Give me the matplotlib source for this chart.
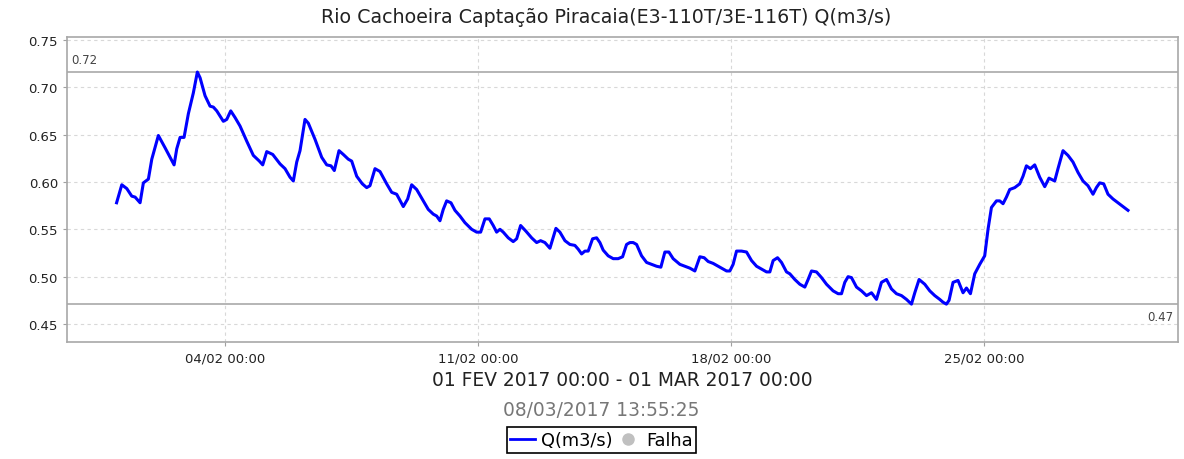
import datetime as dt
import matplotlib
matplotlib.use('Agg')
import matplotlib.pyplot as plt
import matplotlib.dates as mdates
from matplotlib.lines import Line2D

# dias decorridos desde 01/02/2017 00:00
days = [0.0, 0.144, 0.282, 0.420, 0.512, 0.650, 0.741, 0.880, 0.974, 1.156,
        1.342, 1.480, 1.591, 1.665, 1.757, 1.867, 1.986, 2.124, 2.235, 2.310,
        2.448, 2.586, 2.678, 2.772, 2.954, 3.048, 3.159, 3.278, 3.416, 3.602,
        3.784, 3.950, 4.044, 4.155, 4.321, 4.523, 4.661, 4.799, 4.891, 4.985,
        5.076, 5.214, 5.306, 5.491, 5.676, 5.815, 5.934, 6.025, 6.155, 6.274,
        6.412, 6.506, 6.645, 6.800, 6.921, 7.012, 7.151, 7.289, 7.474, 7.613,
        7.751, 7.934, 8.055, 8.166, 8.304, 8.487, 8.625, 8.763, 8.858, 8.949,
        9.040, 9.134, 9.253, 9.364, 9.502, 9.640, 9.826, 9.964, 10.075, 10.194,
        10.313, 10.423, 10.517, 10.609, 10.700, 10.838, 10.976, 11.071, 11.181, 11.328,
        11.485, 11.624, 11.734, 11.853, 11.992, 12.158, 12.268, 12.407, 12.545, 12.683,
        12.775, 12.869, 12.960, 13.051, 13.173, 13.284, 13.375, 13.466, 13.604, 13.743,
        13.881, 14.003, 14.113, 14.205, 14.296, 14.390, 14.528, 14.667, 14.805, 14.943,
        15.062, 15.173, 15.284, 15.402, 15.588, 15.726, 15.864, 16.003, 16.141, 16.260,
        16.371, 16.509, 16.647, 16.786, 16.880, 16.971, 17.062, 17.156, 17.295, 17.433,
        17.571, 17.710, 17.848, 17.986, 18.078, 18.169, 18.291, 18.401, 18.539, 18.631,
        18.769, 18.907, 19.046, 19.137, 19.231, 19.369, 19.508, 19.646, 19.829, 19.967,
        20.061, 20.152, 20.243, 20.337, 20.476, 20.614, 20.753, 20.891, 21.029, 21.167,
        21.306, 21.444, 21.582, 21.721, 21.859, 21.997, 22.089, 22.208, 22.365, 22.504,
        22.642, 22.780, 22.871, 22.965, 23.037, 23.148, 23.286, 23.424, 23.519, 23.629,
        23.748, 23.887, 24.024, 24.116, 24.210, 24.349, 24.440, 24.531, 24.625, 24.716,
        24.855, 24.993, 25.084, 25.178, 25.289, 25.408, 25.546, 25.685, 25.803, 25.961,
        26.052, 26.191, 26.329, 26.467, 26.606, 26.744, 26.882, 27.021, 27.115, 27.206,
        27.317, 27.436, 27.574, 27.712, 27.851, 27.989]

vazao = [0.578, 0.597, 0.593, 0.585, 0.584, 0.578, 0.599, 0.603, 0.624, 0.649,
         0.636, 0.626, 0.618, 0.635, 0.647, 0.647, 0.672, 0.694, 0.716, 0.710,
         0.691, 0.680, 0.679, 0.675, 0.664, 0.666, 0.675, 0.668, 0.659, 0.643,
         0.628, 0.622, 0.618, 0.632, 0.629, 0.619, 0.614, 0.605, 0.601, 0.621,
         0.633, 0.666, 0.662, 0.645, 0.626, 0.618, 0.617, 0.612, 0.633, 0.629,
         0.624, 0.622, 0.606, 0.598, 0.594, 0.596, 0.614, 0.611, 0.598, 0.589,
         0.587, 0.574, 0.582, 0.597, 0.592, 0.580, 0.571, 0.566, 0.564, 0.559,
         0.571, 0.580, 0.578, 0.570, 0.564, 0.557, 0.550, 0.547, 0.547, 0.561,
         0.561, 0.554, 0.547, 0.550, 0.547, 0.541, 0.537, 0.540, 0.554, 0.548,
         0.541, 0.536, 0.538, 0.536, 0.530, 0.551, 0.547, 0.538, 0.534, 0.533,
         0.529, 0.524, 0.527, 0.527, 0.540, 0.541, 0.536, 0.528, 0.522, 0.519,
         0.519, 0.521, 0.534, 0.536, 0.536, 0.534, 0.522, 0.515, 0.513, 0.511,
         0.510, 0.526, 0.526, 0.519, 0.513, 0.511, 0.509, 0.506, 0.521, 0.520,
         0.516, 0.514, 0.511, 0.508, 0.506, 0.506, 0.513, 0.527, 0.527, 0.526,
         0.517, 0.511, 0.508, 0.505, 0.505, 0.517, 0.520, 0.515, 0.505, 0.503,
         0.497, 0.492, 0.489, 0.497, 0.506, 0.505, 0.499, 0.492, 0.485, 0.482,
         0.482, 0.494, 0.500, 0.499, 0.489, 0.485, 0.480, 0.483, 0.476, 0.494,
         0.497, 0.487, 0.482, 0.480, 0.476, 0.471, 0.483, 0.497, 0.492, 0.485,
         0.480, 0.476, 0.473, 0.471, 0.475, 0.494, 0.496, 0.483, 0.488, 0.482,
         0.503, 0.513, 0.522, 0.550, 0.573, 0.580, 0.580, 0.577, 0.584, 0.592,
         0.594, 0.598, 0.606, 0.617, 0.614, 0.618, 0.605, 0.595, 0.604, 0.601,
         0.614, 0.633, 0.628, 0.621, 0.610, 0.601, 0.596, 0.587, 0.594, 0.599,
         0.598, 0.587, 0.582, 0.578, 0.574, 0.570]

yticks = [0.45, 0.50, 0.55, 0.60, 0.65, 0.70, 0.75]
xtick_dates = [dt.datetime(2017, 2, 4), dt.datetime(2017, 2, 11),
               dt.datetime(2017, 2, 18), dt.datetime(2017, 2, 25)]

inicio = dt.datetime(2017, 2, 1)
fim = dt.datetime(2017, 3, 1)


def main():
    t = [inicio + dt.timedelta(days=d) for d in days]

    fig = plt.figure(figsize=(11.84, 4.6), dpi=100)
    ax = fig.add_axes([0.0566, 0.2543, 0.9383, 0.6631])

    ax.plot(t, vazao, color='#0000ff', linewidth=2.2, zorder=3)

    # linhas de maximo e minimo
    vmax = max(vazao)
    vmin = min(vazao)
    ax.axhline(vmax, color='#b0b0b0', linewidth=1.3, zorder=2)
    ax.axhline(vmin, color='#b0b0b0', linewidth=1.3, zorder=2)
    ax.text(0.004, vmax + 0.006, '%.2f' % vmax, transform=ax.get_yaxis_transform(),
            fontsize=8.5, color='#444444', ha='left', va='bottom')
    ax.text(0.996, vmin - 0.006, '%.2f' % vmin, transform=ax.get_yaxis_transform(),
            fontsize=8.5, color='#444444', ha='right', va='top')

    margem = (fim - inicio) * 0.049
    ax.set_xlim(inicio - margem, fim + margem)
    ax.set_ylim(0.431, 0.753)

    ax.set_yticks(yticks)
    ax.set_yticklabels(['%.2f' % v for v in yticks])
    ax.set_xticks(xtick_dates)
    ax.xaxis.set_major_formatter(mdates.DateFormatter('%d/%m %H:%M'))

    ax.grid(True, color='#d8d8d8', linestyle=(0, (3, 3)), linewidth=0.8)
    ax.set_axisbelow(True)
    for s in ax.spines.values():
        s.set_color('#a8a8a8')
        s.set_linewidth(1.2)
    ax.tick_params(axis='both', colors='#a0a0a0', labelcolor='#222222',
                   labelsize=9.5, length=3)

    fig.text(0.512, 0.963, 'Rio Cachoeira Captação Piracaia(E3-110T/3E-116T) Q(m3/s)',
             ha='center', va='center', fontsize=13.7, color='#222222')
    fig.text(0.5255, 1 - 381 / 460, '01 FEV 2017 00:00 - 01 MAR 2017 00:00',
             ha='center', va='center', fontsize=13.4, color='#222222')
    fig.text(0.508, 1 - 411 / 460, '08/03/2017 13:55:25',
             ha='center', va='center', fontsize=13.4, color='#777777')

    handles = [Line2D([], [], color='#0000ff', linewidth=2),
               Line2D([], [], color='#c0c0c0', marker='o', linestyle='None', markersize=8)]
    leg = fig.legend(handles, ['Q(m3/s)', 'Falha'], loc='center',
                     bbox_to_anchor=(0.508, 1 - 441 / 460), ncol=2, fontsize=12.8,
                     frameon=True, fancybox=False, edgecolor='black', framealpha=1,
                     handlelength=1.4, handletextpad=0.3, columnspacing=0.2,
                     borderpad=0.2, borderaxespad=0)
    leg.get_frame().set_linewidth(1.2)

    fig.savefig('out.png', dpi=100)


if __name__ == '__main__':
    main()
